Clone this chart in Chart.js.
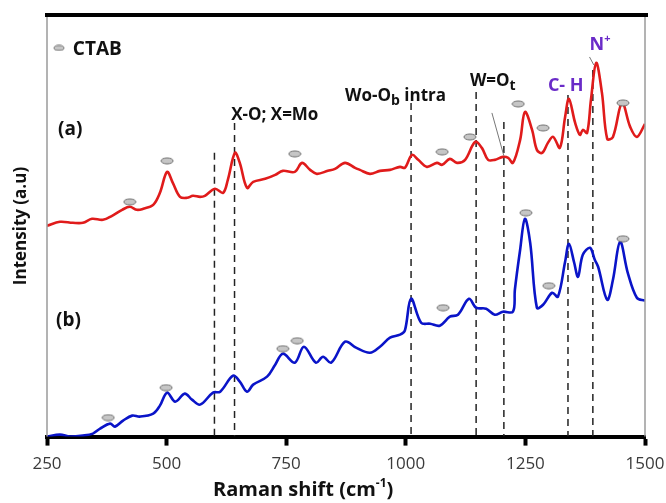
<!DOCTYPE html>
<html>
<head>
<meta charset="utf-8">
<script src="https://cdn.jsdelivr.net/npm/chart.js@4.4.1/dist/chart.umd.min.js"></script>
<style>
  html, body { margin: 0; padding: 0; background: #fff; }
  canvas { display: block; }
</style>
</head>
<body>
<canvas id="chartRaman" width="666" height="503"></canvas>
<script>
/* ===== dados ===== */
const xTicks = [250, 500, 750, 1000, 1250, 1500];

// curva (a) - vermelha
const redX = [250, 277, 304, 325, 344, 367, 386, 407, 423, 438, 451, 472, 486, 501, 513, 528, 543, 555, 570, 580,
  601, 618, 628, 643, 653, 668, 681, 706, 727, 743, 768, 783, 800, 814, 837, 852, 873, 894, 904, 925,
  946, 967, 988, 998, 1013, 1026, 1044, 1065, 1076, 1092, 1107, 1124, 1145, 1159, 1172, 1186, 1203, 1214, 1224, 1239,
  1249, 1264, 1274, 1285, 1297, 1308, 1322, 1333, 1341, 1354, 1364, 1370, 1379, 1387, 1398, 1410, 1421, 1433, 1452, 1469,
  1483, 1500];
const redY = [211, 215, 214, 214, 218, 217, 221, 227, 230, 227, 228, 232, 244, 265, 254, 240, 239, 241, 240, 241,
  248, 244, 257, 284, 274, 249, 255, 258, 262, 266, 265, 274, 267, 263, 266, 268, 274, 269, 267, 263,
  266, 267, 270, 269, 282, 277, 270, 274, 272, 278, 274, 277, 295, 289, 277, 277, 280, 279, 274, 297,
  325, 307, 287, 284, 294, 300, 289, 320, 338, 314, 302, 307, 304, 337, 374, 344, 298, 300, 334, 310,
  300, 313];

// curva (b) - azul
const blueX = [250, 277, 298, 325, 346, 361, 382, 392, 409, 428, 444, 472, 486, 501, 518, 538, 553, 570, 597, 612,
  639, 653, 668, 681, 710, 727, 743, 768, 787, 812, 827, 844, 873, 896, 925, 946, 967, 988, 998, 1011,
  1032, 1051, 1071, 1092, 1109, 1132, 1147, 1168, 1186, 1203, 1224, 1228, 1239, 1249, 1260, 1274, 1287, 1306, 1318, 1333,
  1341, 1352, 1360, 1370, 1385, 1395, 1402, 1421, 1433, 1448, 1464, 1483, 1500];
const blueY = [0, 2, 0, 1, 3, 8, 13, 10, 16, 21, 20, 23, 31, 44, 35, 43, 37, 32, 44, 45,
  61, 55, 45, 52, 60, 72, 83, 74, 90, 74, 80, 74, 95, 89, 84, 90, 99, 102, 106, 138,
  114, 113, 111, 120, 122, 138, 129, 128, 122, 125, 125, 147, 187, 218, 194, 129, 132, 144, 140, 175,
  193, 174, 160, 182, 189, 177, 170, 137, 157, 195, 164, 139, 136];

// marcadores CTAB
const ctabRedX = [423, 501, 768, 1076, 1134, 1235, 1287, 1454];
const ctabRedY = [235, 276, 283, 285, 300, 333, 309, 334];
const ctabBlueX = [378, 499, 743, 773, 1078, 1251, 1299, 1454];
const ctabBlueY = [19, 49, 88, 96, 129, 224, 151, 198];

// linhas tracejadas (posição e altura do topo)
const dashX = [600, 642, 1011, 1147, 1205, 1339, 1391];
const dashTop = [284, 314, 334, 345, 315, 342, 367];

const Y_MAX = 422;

/* ===== utilidades ===== */
function toPoints(xs, ys) {
  return xs.map((x, i) => ({ x, y: ys[i] }));
}

function makeOval(w, h) {
  const c = document.createElement("canvas");
  c.width = w + 2;
  c.height = h + 2;
  const g = c.getContext("2d");
  g.beginPath();
  g.ellipse(c.width / 2, c.height / 2, w / 2, h / 2, 0, 0, Math.PI * 2);
  g.fillStyle = "#c6c6c6";
  g.fill();
  g.lineWidth = 1;
  g.strokeStyle = "#707070";
  g.stroke();
  return c;
}

const oval = makeOval(12, 6);
const ovalSmall = makeOval(10, 5);

const FONT = "'Open Sans', Lato, sans-serif";

/* ===== plugin: bordas e textos ===== */
const decoracoes = {
  id: "decoracoes",
  afterDraw(chart) {
    const { ctx, chartArea: a, scales } = chart;
    const px = (v) => scales.x.getPixelForValue(v);
    const py = (v) => scales.y.getPixelForValue(v);

    ctx.save();
    // bordas laterais finas
    ctx.strokeStyle = "#9a9a9a";
    ctx.lineWidth = 1.5;
    ctx.beginPath();
    ctx.moveTo(a.left, a.top);
    ctx.lineTo(a.left, a.bottom);
    ctx.moveTo(a.right, a.top);
    ctx.lineTo(a.right, a.bottom);
    ctx.stroke();
    // borda superior grossa
    ctx.strokeStyle = "#000";
    ctx.lineWidth = 4;
    ctx.beginPath();
    ctx.moveTo(a.left - 2, a.top);
    ctx.lineTo(a.right + 3, a.top);
    ctx.stroke();

    // ponteiros finos
    ctx.strokeStyle = "#777";
    ctx.lineWidth = 1;
    ctx.beginPath();
    ctx.moveTo(px(1180), py(324));
    ctx.lineTo(px(1205), py(281));
    ctx.moveTo(px(1384), py(380));
    ctx.lineTo(px(1393), py(372));
    ctx.stroke();

    // textos
    ctx.textBaseline = "alphabetic";
    ctx.textAlign = "left";

    function run(parts, x, y) {
      let cx = x;
      parts.forEach((p) => {
        ctx.font = p.font;
        ctx.fillStyle = p.color || "#111";
        ctx.fillText(p.t, cx, y + (p.dy || 0));
        cx += ctx.measureText(p.t).width;
      });
    }

    const b17 = "bold 17px " + FONT;
    const roxo = "#6a2bc8";
    run([{ t: "X-O; X=Mo", font: b17 }], px(635), py(317));
    run([
      { t: "Wo-O", font: b17 },
      { t: "b", font: "bold 14px " + FONT, dy: 4 },
      { t: " intra", font: b17 }
    ], px(873), py(336));
    run([
      { t: "W=O", font: b17 },
      { t: "t", font: "bold 14px " + FONT, dy: 4 }
    ], px(1134), py(351));
    run([{ t: "C- H", font: "bold 18px " + FONT, color: roxo }], px(1297), py(346));
    run([
      { t: "N", font: "bold 18px " + FONT, color: roxo },
      { t: "+", font: "bold 11px " + FONT, color: roxo, dy: -8 }
    ], px(1384), py(387));

    run([{ t: "(a)", font: "bold 19px " + FONT }], px(273), py(302));
    run([{ t: "(b)", font: "bold 19px " + FONT }], px(269), py(111));

    // legenda CTAB
    ctx.drawImage(ovalSmall, px(275) - ovalSmall.width / 2, py(389) - ovalSmall.height / 2);
    run([{ t: "CTAB", font: "bold 19px " + FONT }], px(304), py(382));

    // título eixo x
    run([
      { t: "Raman shift (cm", font: "bold 20px " + FONT },
      { t: "-1", font: "bold 12px " + FONT, dy: -9 },
      { t: ")", font: "bold 20px " + FONT }
    ], 213, 496);

    // título eixo y
    ctx.translate(21, 226);
    ctx.rotate(-Math.PI / 2);
    ctx.textAlign = "center";
    ctx.textBaseline = "middle";
    ctx.font = "bold 17px " + FONT;
    ctx.fillStyle = "#111";
    ctx.fillText("Intensity (a.u)", 0, 0);
    ctx.restore();
  }
};

/* ===== datasets ===== */
const dashSets = dashX.map((x, i) => ({
  data: [{ x, y: dashTop[i] }, { x, y: 0 }],
  borderColor: "#222",
  borderWidth: 1.5,
  borderDash: [7, 5],
  pointRadius: 0,
  tension: 0,
  order: 3
}));

const datasets = [
  {
    data: toPoints(ctabRedX, ctabRedY),
    showLine: false,
    pointStyle: oval,
    order: 0
  },
  {
    data: toPoints(ctabBlueX, ctabBlueY),
    showLine: false,
    pointStyle: oval,
    order: 0
  },
  {
    data: toPoints(redX, redY),
    borderColor: "#e01b1b",
    borderWidth: 2.6,
    pointRadius: 0,
    tension: 0.35,
    order: 1
  },
  {
    data: toPoints(blueX, blueY),
    borderColor: "#0a14c8",
    borderWidth: 2.6,
    pointRadius: 0,
    tension: 0.35,
    order: 1
  },
  ...dashSets
];

new Chart(document.getElementById("chartRaman"), {
  type: "line",
  data: { datasets },
  options: {
    responsive: false,
    animation: false,
    layout: { padding: { left: 47, right: 21, top: 15, bottom: 21 } },
    plugins: {
      legend: { display: false },
      tooltip: { enabled: false }
    },
    scales: {
      x: {
        type: "linear",
        min: 250,
        max: 1500,
        afterBuildTicks: (s) => { s.ticks = xTicks.map((v) => ({ value: v })); },
        afterFit: (s) => { s.paddingLeft = 0; s.paddingRight = 0; },
        border: { display: true, color: "#000", width: 4 },
        grid: {
          drawOnChartArea: false,
          drawTicks: true,
          tickLength: 9,
          tickWidth: 4,
          tickColor: "#000"
        },
        ticks: {
          color: "#3a3a3a",
          padding: 8,
          maxRotation: 0,
          font: { family: FONT, size: 17 },
          callback: (v) => String(v)
        }
      },
      y: {
        display: false,
        min: 0,
        max: Y_MAX
      }
    }
  },
  plugins: [decoracoes]
});
</script>
</body>
</html>
